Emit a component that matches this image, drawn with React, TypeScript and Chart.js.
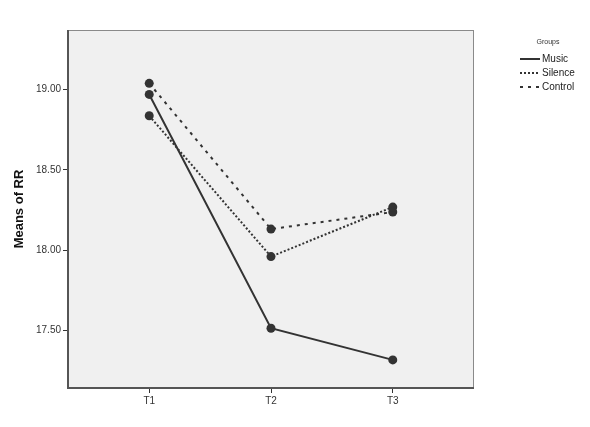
import React, { useEffect, useRef } from "react";
import { Chart, registerables } from "chart.js";

Chart.register(...registerables);

const categories = ["T1", "T2", "T3"];
const musicValues = [18.97, 17.515, 17.318];
const silenceValues = [18.837, 17.961, 18.269];
const controlValues = [19.039, 18.132, 18.238];
const seriesNames = ["Music", "Silence", "Control"];
const yTicks = [17.5, 18.0, 18.5, 19.0];

const FONT = "'Liberation Sans', Arial, sans-serif";

const frameAndLegend = {
  id: "frameAndLegend",
  beforeDraw(chart: any) {
    const { ctx, chartArea: a } = chart;
    ctx.save();
    ctx.fillStyle = "#f0f0f0";
    ctx.fillRect(a.left, a.top, a.right - a.left, a.bottom - a.top);
    ctx.restore();
  },
  afterDraw(chart: any) {
    const { ctx, chartArea: a } = chart;
    ctx.save();
    ctx.strokeStyle = "#8a8a8a";
    ctx.lineWidth = 1;
    ctx.strokeRect(a.left + 0.5, a.top + 0.5, a.right - a.left - 1, a.bottom - a.top - 1);
    ctx.strokeStyle = "#555";
    ctx.lineWidth = 2;
    ctx.beginPath();
    ctx.moveTo(a.left, a.top);
    ctx.lineTo(a.left, a.bottom);
    ctx.lineTo(a.right, a.bottom);
    ctx.stroke();
    // legend
    ctx.fillStyle = "#333";
    ctx.font = `7px ${FONT}`;
    ctx.textBaseline = "middle";
    ctx.textAlign = "center";
    ctx.fillText("Groups", 548, 42);
    ctx.font = `10px ${FONT}`;
    ctx.textAlign = "left";
    const ds = chart.data.datasets;
    ds.forEach((d: any, i: number) => {
      const y = 59 + i * 14;
      ctx.strokeStyle = "#333";
      ctx.lineWidth = 2;
      ctx.setLineDash(d.borderDash || []);
      ctx.beginPath();
      ctx.moveTo(520, y);
      ctx.lineTo(540, y);
      ctx.stroke();
      ctx.setLineDash([]);
      ctx.fillStyle = "#222";
      ctx.fillText(d.label, 542, y);
    });
    ctx.restore();
  },
};

export default function App() {
  const ref = useRef<HTMLCanvasElement>(null);
  useEffect(() => {
    if (!ref.current) return;
    const mk = (label: string, vals: number[], dash: number[]) => ({
      label,
      data: vals.map((v, i) => ({ x: i, y: v })),
      borderColor: "#333",
      backgroundColor: "#333",
      borderWidth: 2,
      borderDash: dash,
      pointRadius: 4.5,
      pointBorderWidth: 0,
      pointBackgroundColor: "#333",
      tension: 0,
    });
    const chart = new Chart(ref.current, {
      type: "line",
      data: {
        datasets: [
          mk(seriesNames[0], musicValues, []),
          mk(seriesNames[1], silenceValues, [2, 2]),
          mk(seriesNames[2], controlValues, [3, 5]),
        ],
      },
      plugins: [frameAndLegend],
      options: {
        animation: false,
        responsive: false,
        layout: { padding: { top: 30, right: 116, left: 0, bottom: 0 } },
        plugins: { legend: { display: false }, tooltip: { enabled: false } },
        scales: {
          x: {
            type: "linear",
            min: -0.667,
            max: 2.667,
            afterBuildTicks: (s: any) => {
              s.ticks = categories.map((_, i) => ({ value: i }));
            },
            afterFit: (s: any) => {
              s.height = 39;
            },
            grid: { display: true, drawOnChartArea: false, tickLength: 5, color: "#333", lineWidth: 1 },
            border: { display: false },
            ticks: {
              color: "#333",
              font: { family: FONT, size: 10 },
              padding: 2,
              maxRotation: 0,
              callback: (v: any) => categories[v] ?? "",
            },
          },
          y: {
            min: 17.143,
            max: 19.371,
            afterBuildTicks: (s: any) => {
              s.ticks = yTicks.map((v) => ({ value: v }));
            },
            afterFit: (s: any) => {
              s.width = 68;
            },
            grid: { display: true, drawOnChartArea: false, tickLength: 5, color: "#333", lineWidth: 1 },
            border: { display: false },
            title: {
              display: true,
              text: "Means of RR",
              color: "#111",
              font: { family: FONT, size: 13, weight: "bold" },
              padding: { top: 12, bottom: 2 },
            },
            ticks: {
              color: "#333",
              font: { family: FONT, size: 10 },
              padding: 2,
              callback: (v: any) => Number(v).toFixed(2),
            },
          },
        },
      },
    } as any);
    return () => chart.destroy();
  }, []);
  return (
    <div style={{ position: "absolute", left: 0, top: 0, width: 590, height: 427, background: "#fff" }}>
      <canvas ref={ref} width={590} height={427} style={{ width: 590, height: 427 }} />
    </div>
  );
}
